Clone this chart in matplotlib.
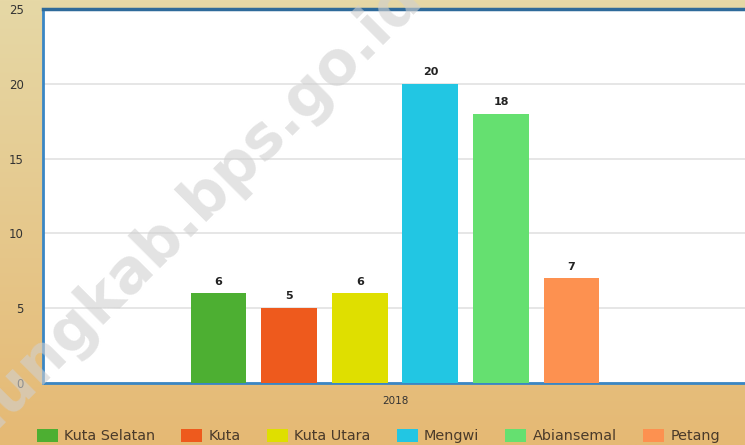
import matplotlib
matplotlib.use("Agg")
import matplotlib.pyplot as plt
import numpy as np
from matplotlib.patches import Patch

categories = ["Kuta Selatan", "Kuta", "Kuta Utara", "Mengwi", "Abiansemal", "Petang"]
values = [6, 5, 6, 20, 18, 7]
colors = ["#4daf32", "#ee5a1d", "#dfdf00", "#22c6e3", "#65e070", "#fd9150"]
year_label = "2018"
yticks = [0, 5, 10, 15, 20, 25]

W, H = 745, 445
fig = plt.figure(figsize=(W / 100, H / 100), dpi=100)

# background gradient
bg = fig.add_axes([0, 0, 1, 1], zorder=-10)
top = np.array([0xe6, 0xd8, 0xa6]) / 255
bot = np.array([0xe5, 0xb9, 0x74]) / 255
t = np.linspace(0, 1, 256)[:, None]
grad = top[None, :] * (1 - t) + bot[None, :] * t
bg.imshow(grad[:, None, :].repeat(2, axis=1), aspect="auto", extent=[0, 1, 0, 1])
bg.axis("off")

left, right, ytop, ybot = 43, 745, 9, 383
ax = fig.add_axes([left / W, (H - ybot) / H, (right - left) / W, (ybot - ytop) / H])
ax.set_facecolor("white")

x = np.arange(len(values))
bars = ax.bar(x, values, width=0.79, color=colors, zorder=3)
for xi, v in zip(x, values):
    ax.text(xi, v + 0.45, str(v), ha="center", va="bottom", fontsize=8,
            fontweight="bold", color="#222222", zorder=4)

ax.set_xlim(-2.486, 7.456)
ax.set_ylim(0, 25)
ax.set_yticks(yticks)
ax.set_yticklabels([str(v) for v in yticks], fontsize=8.5, color="#333333")
ax.yaxis.grid(True, color="#e2e2e2", linewidth=1.2, zorder=0)
ax.set_axisbelow(True)
ax.tick_params(axis="y", length=0, pad=14)
ax.set_xticks([2.5])
ax.set_xticklabels([year_label], fontsize=7.5, color="#333333")
ax.tick_params(axis="x", length=0, pad=9)
for s in ["left", "bottom"]:
    ax.spines[s].set_color("#3a86c4")
    ax.spines[s].set_linewidth(2)
ax.spines["top"].set_color("#2e6a9a")
ax.spines["top"].set_linewidth(2.5)
ax.spines["right"].set_visible(False)

# legend
handles = [Patch(facecolor=c, edgecolor="none") for c in colors]
fig.legend(handles, categories, loc="center", bbox_to_anchor=(0.5 + 0.008, 1 - 436 / H),
           ncol=6, frameon=False, fontsize=10.4, handlelength=1.45, handleheight=1.0,
           handletextpad=0.45, columnspacing=1.8, labelcolor="#4a3a2a")

# watermark (partly outside the canvas, as in the reference)
fig.text(160 / W, 1 - 240 / H, "badungkab.bps.go.id", rotation=45, fontsize=43,
         fontweight="bold", color="#d0d0d0", alpha=0.6, ha="center", va="center",
         rotation_mode="anchor", zorder=20)

fig.savefig("out.png", dpi=100)
